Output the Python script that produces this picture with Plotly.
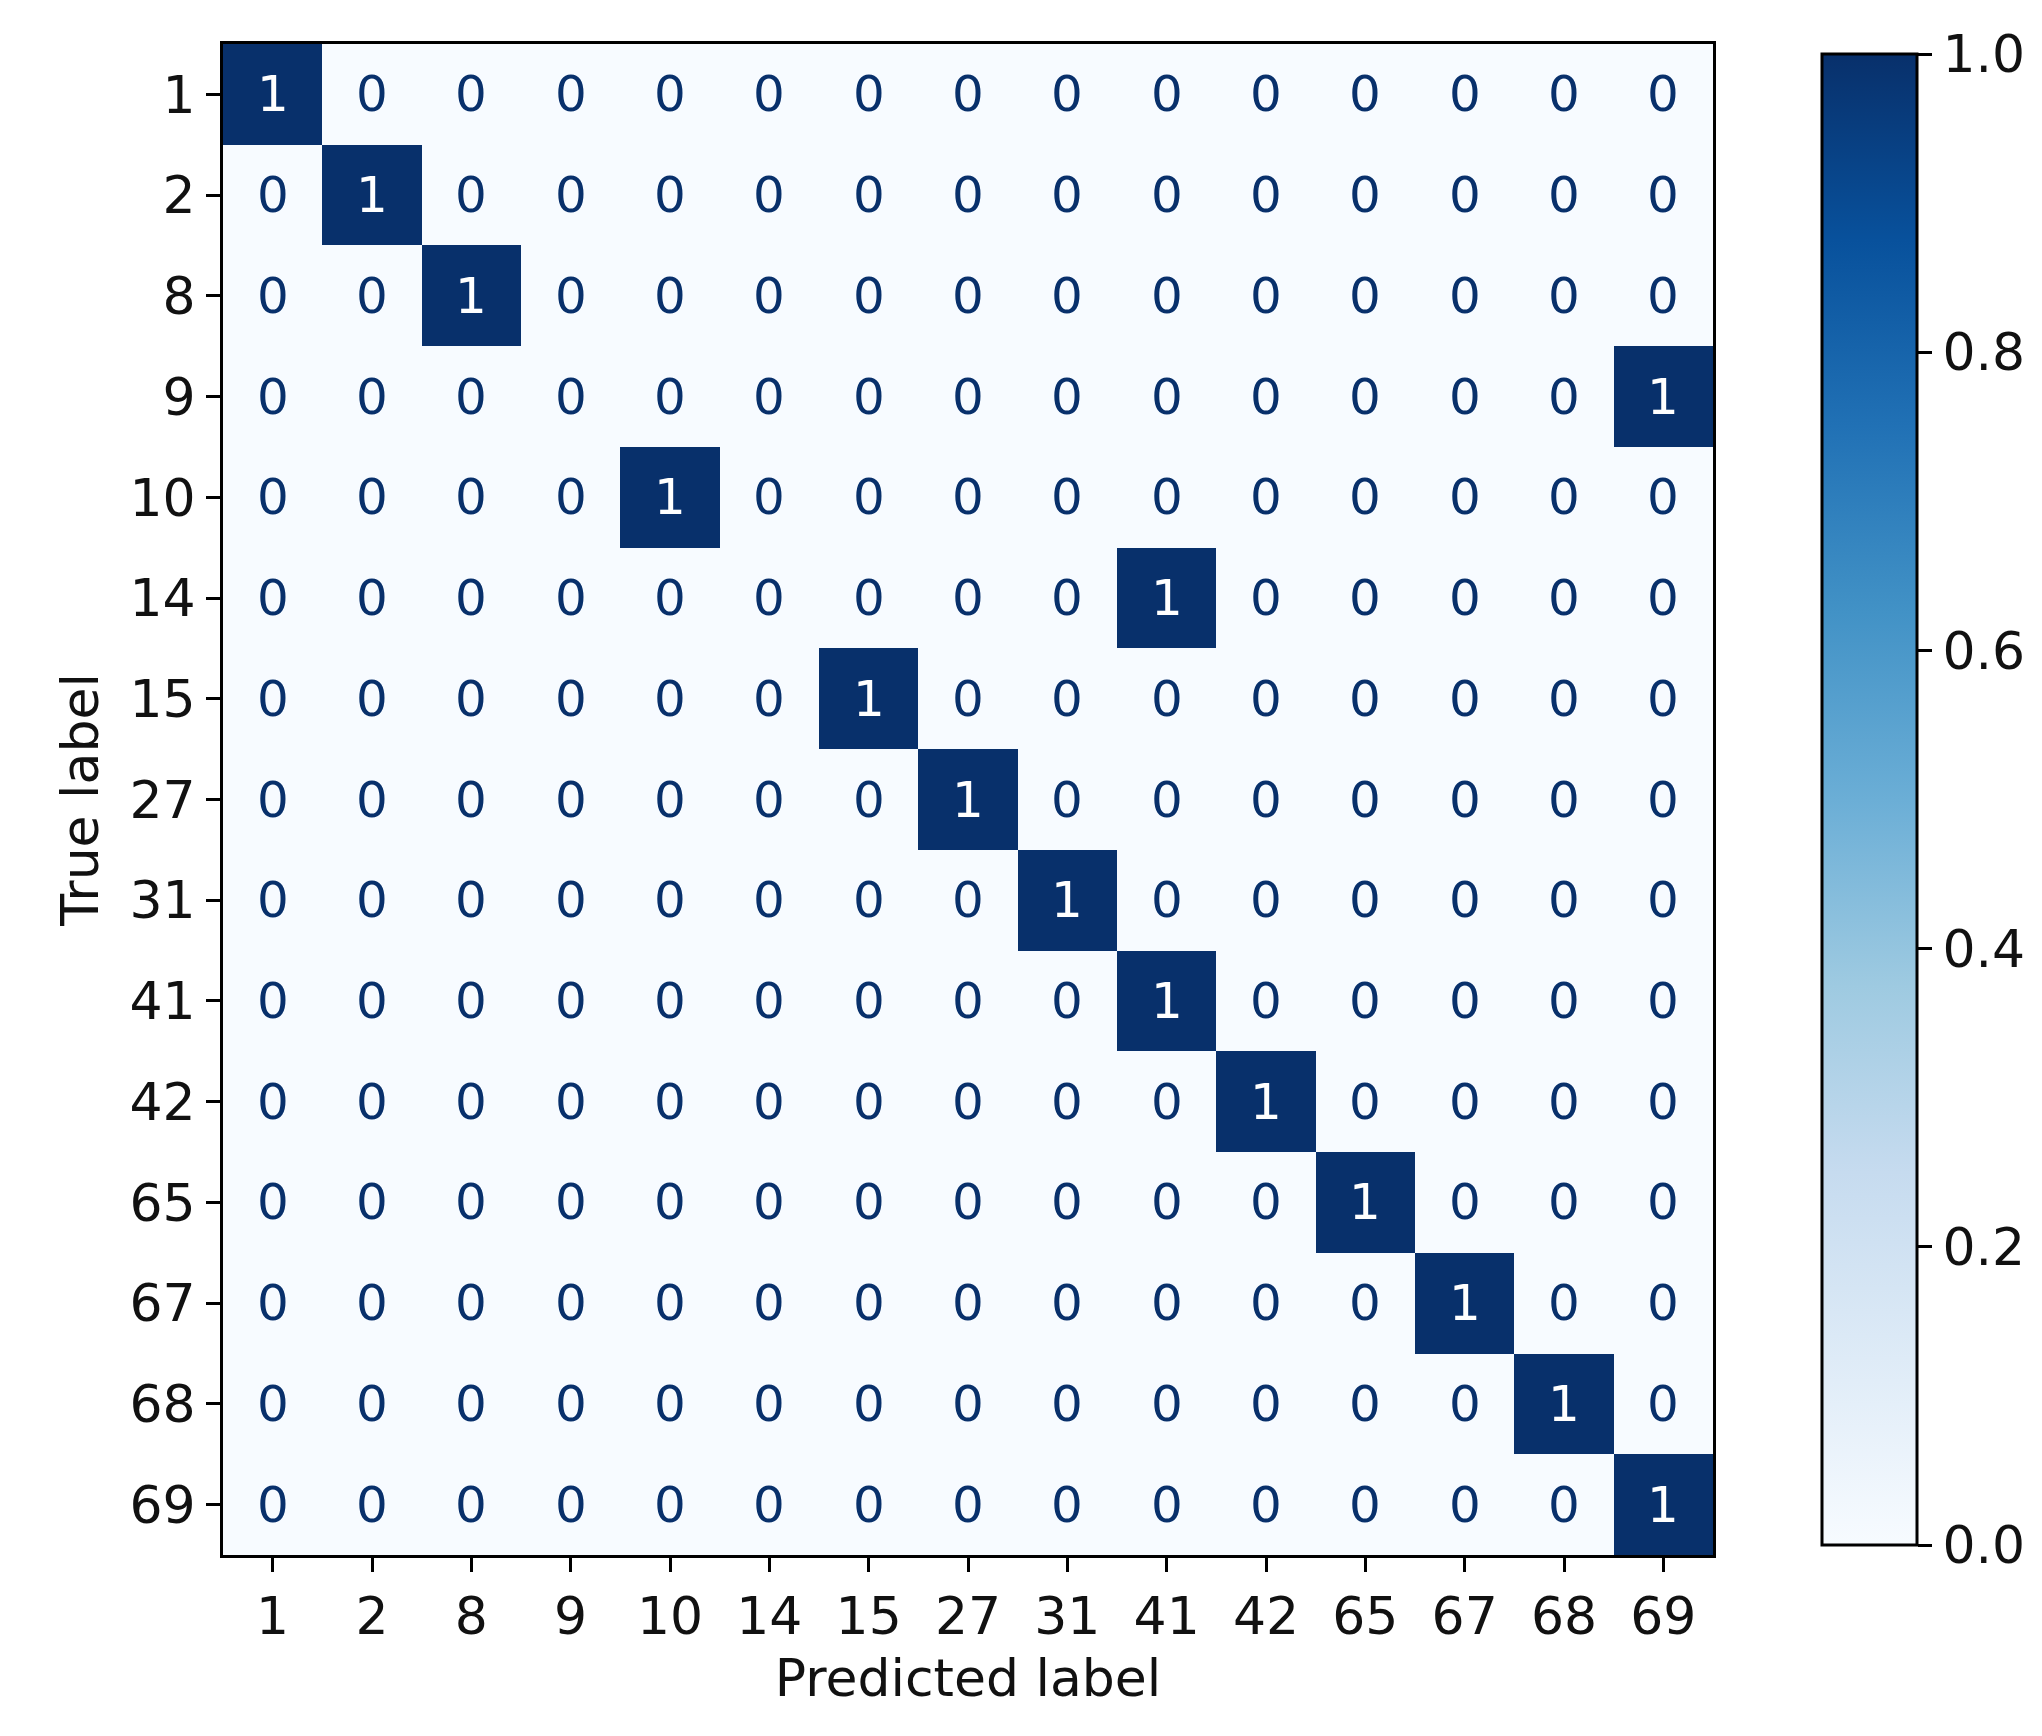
import plotly.graph_objects as go

labels = ["1","2","8","9","10","14","15","27","31","41","42","65","67","68","69"]
# predicted label for each true label
predicted = ["1","2","8","69","10","41","15","27","31","41","42","65","67","68","69"]

n = len(labels)
idx = list(range(n))
z = [[1 if labels[j] == predicted[i] else 0 for j in range(n)] for i in range(n)]

fig = go.Figure(go.Heatmap(
    z=z, x=idx, y=idx, zmin=0, zmax=1, colorscale="Blues",
    colorbar=dict(thickness=95, thicknessmode="pixels", len=1511, lenmode="pixels",
                  x=(1829-215)/1513, xanchor="left", y=1, yanchor="top",
                  outlinecolor="black", outlinewidth=3,
                  tickvals=[0,0.2,0.4,0.6,0.8,1.0], ticktext=["0.0","0.2","0.4","0.6","0.8","1.0"],
                  ticks="outside", ticklen=14, tickwidth=3, tickcolor="black",
                  tickfont=dict(size=52, color="#111")),
    hoverinfo="skip"))

for i in range(n):
    for j in range(n):
        fig.add_annotation(x=j, y=i, text=str(z[i][j]), showarrow=False,
                           font=dict(size=50, color="white" if z[i][j] else "#08306b"))

axis = dict(showline=True, mirror=True, linecolor="black", linewidth=3,
            ticks="outside", ticklen=14, tickwidth=3, tickcolor="black", tickangle=0,
            tickvals=idx, ticktext=labels,
            tickfont=dict(size=52, color="#111"), showgrid=False, zeroline=False)
fig.update_xaxes(**axis, range=[-0.5, n-0.5],
                 title=dict(text="Predicted label", font=dict(size=52, color="#111"), standoff=15))
fig.update_yaxes(**axis, range=[n-0.5, -0.5],
                 title=dict(text="True label", font=dict(size=52, color="#111"), standoff=15))
fig.update_layout(width=2042, height=1736, plot_bgcolor="white", paper_bgcolor="white",
                  font=dict(family="DejaVu Sans"),
                  margin=dict(l=215, r=314, t=36, b=189))
fig.write_html("out.html")
